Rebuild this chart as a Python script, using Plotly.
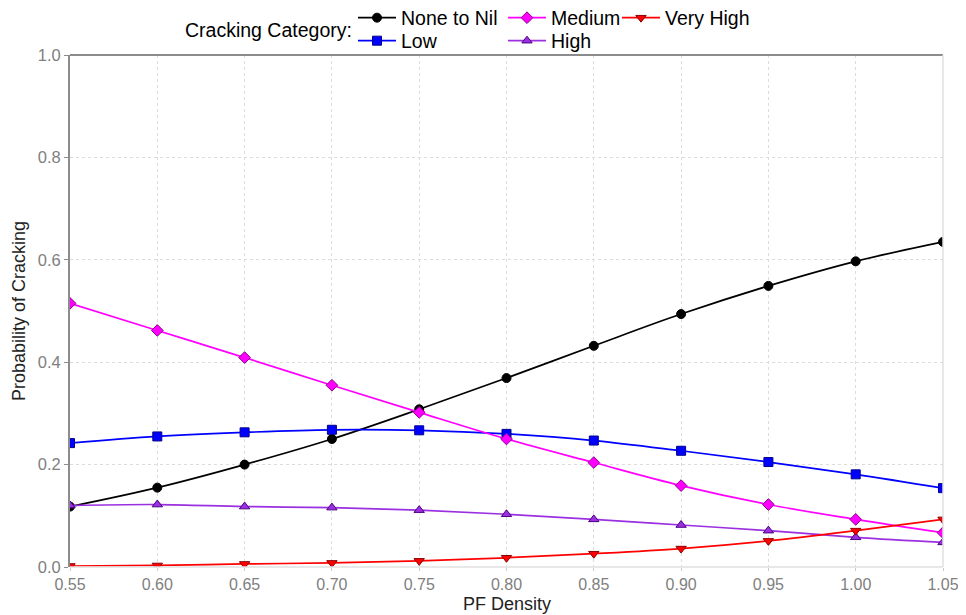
import plotly.graph_objects as go

density = [0.55, 0.60, 0.65, 0.70, 0.75, 0.80, 0.85, 0.90, 0.95, 1.00, 1.05]

none_to_nil = [0.118, 0.155, 0.200, 0.250, 0.308, 0.369, 0.432, 0.494, 0.549, 0.597, 0.635]
low = [0.242, 0.255, 0.263, 0.268, 0.267, 0.260, 0.247, 0.227, 0.205, 0.181, 0.154]
medium = [0.515, 0.462, 0.409, 0.355, 0.302, 0.250, 0.204, 0.159, 0.122, 0.093, 0.067]
high = [0.120, 0.122, 0.118, 0.116, 0.111, 0.103, 0.093, 0.082, 0.071, 0.058, 0.048]
very_high = [0.002, 0.003, 0.006, 0.008, 0.012, 0.018, 0.026, 0.036, 0.051, 0.071, 0.093]

series = [
    ("None to Nil", none_to_nil, "#000000", "#000000", "circle", "legend2"),
    ("Low", low, "#0000ff", "#00008b", "square", "legend3"),
    ("Medium", medium, "#ff00ff", "#8b008b", "diamond", "legend4"),
    ("High", high, "#9b30e0", "#4b0082", "triangle-up", "legend5"),
    ("Very High", very_high, "#ff0000", "#8b0000", "triangle-down", "legend6"),
]

fig = go.Figure()
for name, vals, col, edge, sym, leg in series:
    fig.add_trace(go.Scatter(
        x=density, y=vals, name=name, mode="lines+markers",
        line=dict(color=col, width=1.7, shape="spline"),
        marker=dict(symbol=sym, size=9, color=col, line=dict(color=edge, width=1)),
        legend=leg,
    ))

font = "Liberation Sans, Arial, sans-serif"
legfont = dict(family=font, size=19.5, color="#000000")

# the page places the figure 8px in from the top-left corner
W, H = 958, 607
PL, PR, PT, PB = 70, 943, 55, 567   # plot area in page pixels

def leg(px, py):
    return dict(orientation="h", x=px / W, y=1 - py / H, xref="container", yref="container",
                xanchor="left", yanchor="middle", bgcolor="rgba(0,0,0,0)",
                font=legfont, itemwidth=38)

def paper_x(px):
    return (px - PL) / (PR - PL)

def paper_y(py):
    return (PB - py) / (PB - PT)

fig.update_layout(
    width=W, height=H,
    margin=dict(l=PL - 8, r=W + 8 - PR, t=PT - 8, b=H + 8 - PB, autoexpand=False),
    paper_bgcolor="white", plot_bgcolor="white",
    font=dict(family=font),
    showlegend=True,
    legend2=leg(345, 10),
    legend3=leg(345, 33),
    legend4=leg(495, 10),
    legend5=leg(495, 33),
    legend6=leg(609, 10),
    annotations=[
        dict(text="Cracking Category:", xref="paper", yref="paper",
             x=paper_x(183), y=paper_y(30), xanchor="left", yanchor="middle",
             showarrow=False, font=dict(family=font, size=19.5, color="#000000")),
        dict(text="PF Density", xref="paper", yref="paper",
             x=0.5, y=paper_y(604), xanchor="center", yanchor="middle",
             showarrow=False, font=dict(family=font, size=18, color="#222222")),
        dict(text="Probability of Cracking", xref="paper", yref="paper", textangle=-90,
             x=paper_x(19), y=0.5, xanchor="center", yanchor="middle",
             showarrow=False, font=dict(family=font, size=18, color="#222222")),
    ],
    shapes=[
        dict(type="line", xref="paper", yref="paper", x0=0, x1=1, y0=1, y1=1,
             line=dict(color="#8c8c8c", width=2)),
        dict(type="line", xref="paper", yref="paper", x0=1, x1=1, y0=0, y1=1,
             line=dict(color="#e0e0e0", width=1.5)),
        dict(type="line", xref="paper", yref="paper", x0=0, x1=1, y0=0, y1=0,
             line=dict(color="#e0e0e0", width=1.5)),
    ],
)
fig.update_xaxes(
    range=[0.55, 1.05], tickvals=density, tickformat=".2f",
    showgrid=True, gridcolor="#dcdcdc", griddash="dot", gridwidth=1,
    zeroline=False, showline=False,
    ticks="outside", ticklen=3, tickcolor="#cccccc",
    tickfont=dict(family=font, size=16, color="#808080"),
)
fig.update_yaxes(
    range=[0, 1], tickvals=[0, 0.2, 0.4, 0.6, 0.8, 1.0], tickformat=".1f",
    showgrid=True, gridcolor="#dcdcdc", griddash="dot", gridwidth=1,
    zeroline=False, showline=True, linecolor="#8c8c8c", linewidth=2,
    ticks="outside", ticklen=4, tickcolor="#8c8c8c",
    tickfont=dict(family=font, size=16.5, color="#808080"),
)
fig.write_html("out.html")
